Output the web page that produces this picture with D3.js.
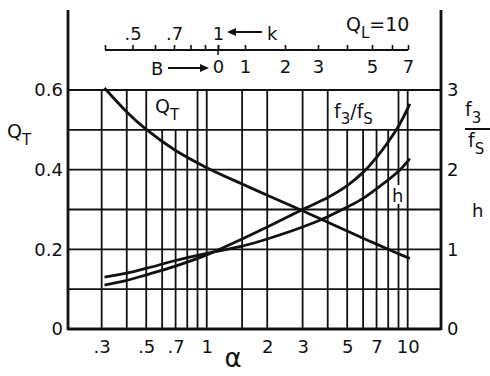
<!DOCTYPE html>
<html>
<head>
<meta charset="utf-8">
<script src="https://cdn.jsdelivr.net/npm/d3@7"></script>
<style>
  body { margin: 0; background: #fff; }
  text { font-family: "DejaVu Sans", "Liberation Sans", Arial, sans-serif; fill: #111; }
</style>
</head>
<body>
<div id="chart-area"></div>
<script>
// alpha values along the curves
let alpha = [0.31, 0.4, 0.5, 0.7, 1, 1.5, 2, 3, 4, 5, 6, 7, 9, 10.25]
// Q_T on the left axis
let qT = [0.605, 0.545, 0.501, 0.448, 0.405, 0.364, 0.336, 0.297, 0.268, 0.246, 0.228, 0.213, 0.189, 0.177]
// f3/fS and h on the right axis
let f3fs = [0.55, 0.61, 0.68, 0.79, 0.93, 1.13, 1.28, 1.5, 1.65, 1.8, 1.966, 2.154, 2.546, 2.825]
let hVals = [0.65, 0.7, 0.76, 0.86, 0.95, 1.04, 1.13, 1.28, 1.41, 1.53, 1.64, 1.76, 1.98, 2.14]

let gridAlpha = [0.3, 0.4, 0.5, 0.6, 0.7, 0.8, 0.9, 1, 1.5, 2, 3, 4, 5, 6, 7, 8, 9, 10]
let shortGrid = [0.6, 0.7, 0.8, 5, 6, 7, 8]   // these stop at 0.5 to leave room for labels
let gridQ = [0.1, 0.2, 0.3, 0.4, 0.5, 0.6]
let xTicks = [0.3, 0.5, 0.7, 1, 2, 3, 5, 7, 10]
let xTickLabels = [".3", ".5", ".7", "1", "2", "3", "5", "7", "10"]
let leftTicks = [0, 0.2, 0.4, 0.6]
let rightTicks = [0, 1, 2, 3]
let kTicks = [0.4, 0.5, 0.6, 0.7, 0.8, 0.9, 1]
let kLabels = {0.5: ".5", 0.7: ".7", 1: "1"}
let bTicks = [0, 1, 2, 3, 4, 5, 6, 7]
let bLabelled = [0, 1, 2, 3, 5, 7]

let width = 490, height = 376
let margin = {top: 90, right: 49, bottom: 47, left: 68}
let plotW = width - margin.left - margin.right
let plotH = height - margin.top - margin.bottom

let svg = d3.select("#chart-area").append("svg")
  .attr("width", width)
  .attr("height", height)

let x = d3.scaleLog().domain([0.204, 14.65]).range([margin.left, margin.left + plotW])
let yL = d3.scaleLinear().domain([0, 0.6]).range([margin.top + plotH, margin.top])
let yR = d3.scaleLinear().domain([0, 3]).range([margin.top + plotH, margin.top])

// top nomograph scales
let kScale = d3.scaleLog().domain([0.4, 1]).range([105, 218])
let bScale = d3.scaleLinear().domain(bTicks).range([218, 245, 285, 318, 347, 372, 392, 408])

let ink = "#111"

// grid
let grid = svg.append("g").attr("stroke", ink).attr("stroke-width", 1.8)
grid.selectAll("line.h").data(gridQ).enter().append("line")
  .attr("x1", margin.left).attr("x2", margin.left + plotW)
  .attr("y1", d => yL(d)).attr("y2", d => yL(d))
grid.selectAll("line.v").data(gridAlpha).enter().append("line")
  .attr("x1", d => x(d)).attr("x2", d => x(d))
  .attr("y1", yL(0))
  .attr("y2", d => shortGrid.includes(d) ? yL(0.5) : yL(0.6))

// axis frame
let frame = svg.append("g").attr("stroke", ink).attr("stroke-width", 2.8)
frame.append("line").attr("x1", margin.left).attr("x2", margin.left).attr("y1", 10).attr("y2", yL(0) + 1)
frame.append("line").attr("x1", margin.left + plotW).attr("x2", margin.left + plotW).attr("y1", 10).attr("y2", yL(0) + 1)
frame.append("line").attr("x1", margin.left).attr("x2", margin.left + plotW).attr("y1", yL(0)).attr("y2", yL(0))

// axes labels via d3 axes
let bottomAxis = d3.axisBottom(x).tickValues(xTicks).tickSize(0).tickPadding(11)
  .tickFormat((d, i) => xTickLabels[i])
svg.append("g").attr("transform", "translate(0," + yL(0) + ")").call(bottomAxis)
  .call(g => g.select(".domain").remove())
  .selectAll("text").attr("font-size", 18).attr("font-family", null)

let leftAxis = d3.axisLeft(yL).tickValues(leftTicks).tickSize(0).tickPadding(5)
  .tickFormat(d => d === 0 ? "0" : d3.format(".1f")(d))
svg.append("g").attr("transform", "translate(" + margin.left + ",0)").call(leftAxis)
  .call(g => g.select(".domain").remove())
  .selectAll("text").attr("font-size", 18).attr("font-family", null)

let rightAxis = d3.axisRight(yR).tickValues(rightTicks).tickSize(0).tickPadding(6)
  .tickFormat(d3.format("d"))
svg.append("g").attr("transform", "translate(" + (margin.left + plotW) + ",0)").call(rightAxis)
  .call(g => g.select(".domain").remove())
  .selectAll("text").attr("font-size", 18).attr("font-family", null)

// k axis (top) and B axis (below it) share one baseline
let topY = 50
let kAxis = d3.axisTop(kScale).tickValues(kTicks).tickSizeInner(5).tickSizeOuter(0).tickPadding(5)
  .tickFormat(d => kLabels[d] || "")
svg.append("g").attr("transform", "translate(0," + topY + ")").call(kAxis)
  .call(g => g.select(".domain").remove())
  .call(g => g.selectAll("line").attr("stroke", ink).attr("stroke-width", 1.6))
  .selectAll("text").attr("font-size", 18).attr("font-family", null)

let bAxis = d3.axisBottom(bScale).tickValues(bTicks).tickSizeInner(-5).tickSizeOuter(0).tickPadding(10)
  .tickFormat(d => bLabelled.includes(d) ? d : "")
svg.append("g").attr("transform", "translate(0," + topY + ")").call(bAxis)
  .call(g => g.select(".domain").remove())
  .call(g => g.selectAll("line").attr("stroke", ink).attr("stroke-width", 1.6))
  .selectAll("text").attr("font-size", 18).attr("font-family", null)

svg.append("line").attr("stroke", ink).attr("stroke-width", 2)
  .attr("x1", kScale(0.4)).attr("x2", bScale(7)).attr("y1", topY).attr("y2", topY)
svg.append("line").attr("stroke", ink).attr("stroke-width", 1.6)
  .attr("x1", bScale(0)).attr("x2", bScale(0)).attr("y1", topY).attr("y2", topY + 5)

// arrows on the top scales
function arrow(x1, x2, y) {
  let dir = x2 > x1 ? 1 : -1
  svg.append("line").attr("stroke", ink).attr("stroke-width", 2)
    .attr("x1", x1).attr("x2", x2 - dir * 6).attr("y1", y).attr("y2", y)
  svg.append("path").attr("fill", ink)
    .attr("d", "M" + x2 + "," + y + "L" + (x2 - dir * 9) + "," + (y - 4) + "L" + (x2 - dir * 9) + "," + (y + 4) + "Z")
}
arrow(262, 227, 32)
arrow(168, 209, 68)
svg.append("text").attr("x", 267).attr("y", 40).attr("font-size", 18).text("k")
svg.append("text").attr("x", 151).attr("y", 75).attr("font-size", 18).text("B")

// text with a subscript
function subText(px, py, main, sub, size) {
  let t = svg.append("text").attr("x", px).attr("y", py).attr("font-size", size || 19)
  t.append("tspan").text(main)
  t.append("tspan").attr("dy", 7).attr("font-size", 15).text(sub)
  return t
}

// curves
let line = d3.line().curve(d3.curveCatmullRom.alpha(0.5))
let curves = svg.append("g").attr("fill", "none").attr("stroke", ink).attr("stroke-width", 2.8)
curves.append("path").attr("d", line(alpha.map((a, i) => [x(a), yL(qT[i])])))
curves.append("path").attr("d", line(alpha.map((a, i) => [x(a), yR(f3fs[i])])))
curves.append("path").attr("d", line(alpha.map((a, i) => [x(a), yR(hVals[i])])))

// in-plot labels
subText(155, 113, "Q", "T")
let f3 = svg.append("text").attr("x", 334).attr("y", 118).attr("font-size", 19)
f3.append("tspan").text("f")
f3.append("tspan").attr("dy", 6).attr("font-size", 15).text("3")
f3.append("tspan").attr("dy", -6).text("/f")
f3.append("tspan").attr("dy", 6).attr("font-size", 15).text("S")
svg.append("rect").attr("x", 391).attr("y", 185).attr("width", 14).attr("height", 19).attr("fill", "#fff")
svg.append("text").attr("x", 392).attr("y", 202).attr("font-size", 18).text("h")

// axis titles
subText(7, 138, "Q", "T")
subText(346, 31, "Q", "L").append("tspan").attr("dy", -7).attr("font-size", 19).text("=10")
subText(465, 116, "f", "3")
svg.append("line").attr("stroke", ink).attr("stroke-width", 2)
  .attr("x1", 465).attr("x2", 490).attr("y1", 129).attr("y2", 129)
subText(468, 147, "f", "S")
svg.append("text").attr("x", 472).attr("y", 217).attr("font-size", 18).text("h")
svg.append("text").attr("x", 233).attr("y", 367).attr("text-anchor", "middle")
  .attr("font-size", 26).text("α")
</script>
</body>
</html>
